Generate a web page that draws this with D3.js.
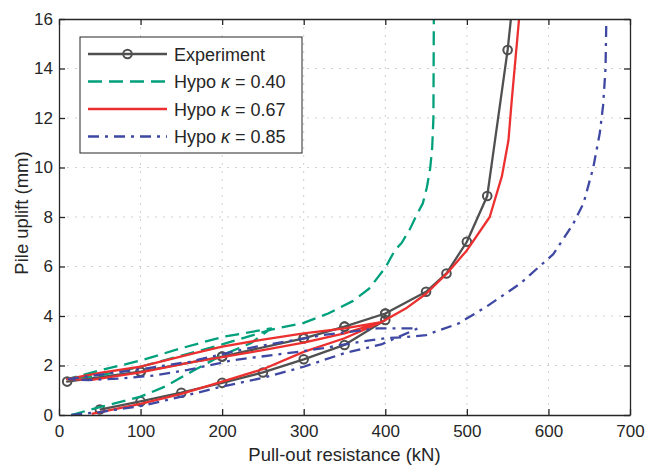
<!DOCTYPE html>
<html>
<head>
<meta charset="utf-8">
<script src="https://cdn.jsdelivr.net/npm/d3@7"></script>
<style>
  body { margin: 0; background: #fff; }
  svg text { font-family: "Liberation Sans", Arial, Helvetica, sans-serif; fill: #262626; }
</style>
</head>
<body>
<div id="chart"></div>
<script>
// pile uplift vs pull-out resistance, [kN, mm]
const experiment = [
  [50, 0.22], [100, 0.55], [150, 0.9], [200, 1.3], [250, 1.72], [300, 2.25], [350, 2.83], [400, 3.84],
  [400, 4.1], [350, 3.57], [300, 3.1], [200, 2.36], [100, 1.75], [10, 1.35],
  [100, 1.75], [200, 2.36], [300, 3.1], [350, 3.57], [400, 4.1],
  [450, 4.98], [475, 5.72], [500, 7.0], [525, 8.85], [550, 14.75], [554, 16]
];
const hypo040 = [
  [15, 0], [50, 0.32], [100, 0.74], [130, 1.15], [165, 1.8], [200, 2.42], [235, 2.9], [260, 3.5],
  [200, 3.15], [150, 2.7], [100, 2.2], [50, 1.8], [10, 1.45],
  [50, 1.6], [100, 1.95], [150, 2.4], [200, 2.85], [260, 3.45],
  [300, 3.72], [330, 4.1], [360, 4.6], [380, 5.1], [400, 5.95], [412, 6.67], [420, 6.95], [430, 7.5],
  [438, 8.05], [446, 8.55], [451, 9.2], [455, 9.95], [457.5, 10.8], [459, 12], [459.5, 16]
];
const hypo067 = [
  [40, 0.05], [100, 0.45], [150, 0.85], [200, 1.35], [250, 1.85], [300, 2.55], [350, 3.1], [395, 3.75],
  [350, 3.5], [300, 3.3], [250, 3.05], [200, 2.76], [165, 2.49], [100, 1.95], [50, 1.7], [10, 1.45],
  [40, 1.42], [100, 1.72], [165, 2.15], [200, 2.34], [250, 2.62], [300, 2.92], [350, 3.3], [395, 3.75],
  [425, 4.3], [450, 4.9], [475, 5.7], [500, 6.65], [528, 8.0], [543, 9.65], [551, 11.1], [555, 12.7], [564, 16]
];
const hypo085 = [
  [15, 0], [50, 0.12], [100, 0.36], [150, 0.74], [200, 1.15], [250, 1.5], [300, 1.95], [350, 2.5], [395, 2.85], [440, 3.5],
  [390, 3.5], [324, 3.23], [242, 2.76], [214, 2.56], [160, 2.15], [100, 1.85], [44, 1.6], [10, 1.45],
  [36, 1.41], [77, 1.48], [118, 1.6], [158, 1.82], [214, 2.22], [295, 2.56], [324, 2.7], [369, 2.96], [400, 3.1],
  [425, 3.15], [450, 3.23], [490, 3.7], [525, 4.4], [565, 5.3], [606, 6.5], [630, 7.7], [643, 8.55],
  [655, 10.0], [663, 11.4], [667, 12.5], [670, 14], [671, 16]
];

const xTicks = [0, 100, 200, 300, 400, 500, 600, 700];
const yTicks = [0, 2, 4, 6, 8, 10, 12, 14, 16];

const series = [
  { name: "Experiment", data: experiment, color: "#505050", dash: null, marker: true },
  { name: "0.40", data: hypo040, color: "#00a07c", dash: "14,7", marker: false },
  { name: "0.67", data: hypo067, color: "#ec3030", dash: null, marker: false },
  { name: "0.85", data: hypo085, color: "#3e48a2", dash: "11,6,3,6", marker: false }
];

const W = 646, H = 467;
const margin = { top: 19, right: 16, bottom: 52, left: 59 };
const width = W - margin.left - margin.right;
const height = H - margin.top - margin.bottom;

const svg = d3.select("#chart").append("svg")
  .attr("width", W)
  .attr("height", H);

const g = svg.append("g")
  .attr("transform", `translate(${margin.left},${margin.top})`);

const x = d3.scaleLinear().domain([0, 700]).range([0, width]);
const y = d3.scaleLinear().domain([0, 16]).range([height, 0]);

// dotted grid
g.append("g").selectAll("line")
  .data(xTicks.slice(1, -1))
  .enter().append("line")
  .attr("x1", d => x(d)).attr("x2", d => x(d))
  .attr("y1", 0).attr("y2", height)
  .attr("stroke", "#cfcfcf").attr("stroke-width", 1).attr("stroke-dasharray", "2,6");
g.append("g").selectAll("line")
  .data(yTicks.slice(1, -1))
  .enter().append("line")
  .attr("y1", d => y(d)).attr("y2", d => y(d))
  .attr("x1", 0).attr("x2", width)
  .attr("stroke", "#cfcfcf").attr("stroke-width", 1).attr("stroke-dasharray", "2,6");

const line = d3.line().x(d => x(d[0])).y(d => y(d[1]));

series.forEach(s => {
  g.append("path")
    .datum(s.data)
    .attr("d", line)
    .attr("fill", "none")
    .attr("stroke", s.color)
    .attr("stroke-width", 2.3)
    .attr("stroke-linejoin", "round")
    .attr("stroke-dasharray", s.dash);
  if (s.marker) {
    g.append("g").selectAll("circle")
      .data(s.data.slice(0, -1))
      .enter().append("circle")
      .attr("cx", d => x(d[0]))
      .attr("cy", d => y(d[1]))
      .attr("r", 4.3)
      .attr("fill", "none")
      .attr("stroke", s.color)
      .attr("stroke-width", 2);
  }
});

// axes, ticks inward on all four sides
function styleAxis(sel) {
  sel.select(".domain").attr("stroke", "#262626").attr("stroke-width", 1.3);
  sel.selectAll(".tick line").attr("stroke", "#262626").attr("stroke-width", 1.3);
  sel.selectAll("text").style("font-size", "17px").attr("fill", "#262626");
}

g.append("g")
  .attr("transform", `translate(0,${height})`)
  .call(d3.axisBottom(x).tickValues(xTicks).tickSizeInner(-6).tickSizeOuter(0).tickPadding(10))
  .call(styleAxis);

g.append("g")
  .call(d3.axisLeft(y).tickValues(yTicks).tickSizeInner(-6).tickSizeOuter(0).tickPadding(6))
  .call(styleAxis);

g.append("g")
  .call(d3.axisTop(x).tickValues(xTicks).tickSizeInner(-6).tickSizeOuter(0).tickFormat(""))
  .call(styleAxis);

g.append("g")
  .attr("transform", `translate(${width},0)`)
  .call(d3.axisRight(y).tickValues(yTicks).tickSizeInner(-6).tickSizeOuter(0).tickFormat(""))
  .call(styleAxis);

// axis titles
svg.append("text")
  .attr("x", margin.left + width / 2)
  .attr("y", 461)
  .attr("text-anchor", "middle")
  .style("font-size", "18.5px")
  .text("Pull-out resistance (kN)");

svg.append("text")
  .attr("transform", `translate(28,${margin.top + height / 2 - 4}) rotate(-90)`)
  .attr("text-anchor", "middle")
  .style("font-size", "18.5px")
  .text("Pile uplift (mm)");

// legend
const legend = svg.append("g");
legend.append("rect")
  .attr("x", 80).attr("y", 37)
  .attr("width", 222).attr("height", 116)
  .attr("fill", "#fff")
  .attr("stroke", "#262626")
  .attr("stroke-width", 1);

series.forEach((s, i) => {
  const ly = 54 + i * 27.5;
  legend.append("line")
    .attr("x1", 88).attr("x2", 167)
    .attr("y1", ly).attr("y2", ly)
    .attr("stroke", s.color)
    .attr("stroke-width", 2.3)
    .attr("stroke-dasharray", s.dash);
  if (s.marker) {
    legend.append("circle")
      .attr("cx", 127.5).attr("cy", ly).attr("r", 4.3)
      .attr("fill", "none").attr("stroke", s.color).attr("stroke-width", 2);
  }
  const t = legend.append("text")
    .attr("x", 174).attr("y", ly + 6.5)
    .style("font-size", "18px");
  if (s.marker) {
    t.text(s.name);
  } else {
    t.append("tspan").text("Hypo ");
    t.append("tspan").style("font-style", "italic").text("\u03BA");
    t.append("tspan").text(" = " + s.name);
  }
});
</script>
</body>
</html>
